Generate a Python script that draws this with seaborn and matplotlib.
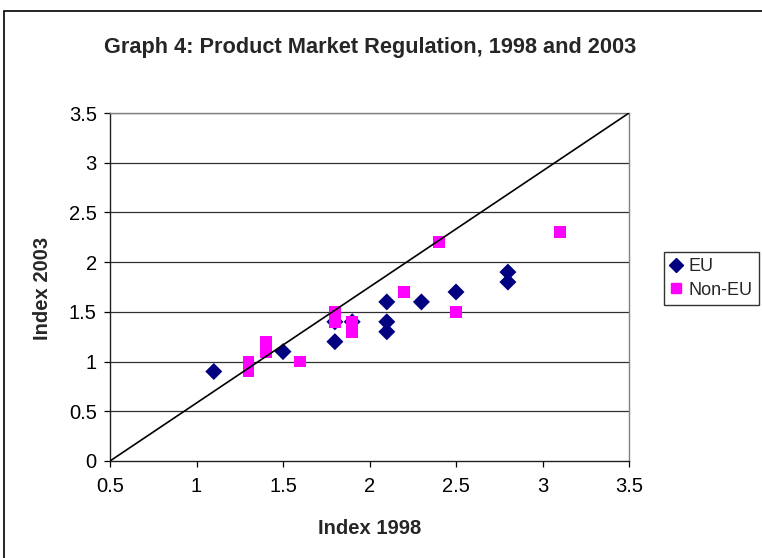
import matplotlib
matplotlib.use("Agg")
import matplotlib.pyplot as plt
import seaborn as sns
import pandas as pd
from matplotlib.patches import Rectangle
from matplotlib.lines import Line2D

# Data
eu_1998 = [1.1, 1.5, 1.8, 1.8, 1.9, 2.1, 2.1, 2.1, 2.3, 2.5, 2.8, 2.8]
eu_2003 = [0.9, 1.1, 1.2, 1.4, 1.4, 1.6, 1.4, 1.3, 1.6, 1.7, 1.9, 1.8]
noneu_1998 = [1.3, 1.3, 1.4, 1.4, 1.6, 1.8, 1.8, 1.9, 1.9, 2.2, 2.4, 2.5, 3.1]
noneu_2003 = [1.0, 0.9, 1.2, 1.1, 1.0, 1.5, 1.4, 1.4, 1.3, 1.7, 2.2, 1.5, 2.3]
diag_x = [0.5, 3.5]
diag_y = [0.0, 3.5]
x_ticks = [0.5, 1, 1.5, 2, 2.5, 3, 3.5]
y_ticks = [0, 0.5, 1, 1.5, 2, 2.5, 3, 3.5]
x_ticklabels = ['0.5', '1', '1.5', '2', '2.5', '3', '3.5']
y_ticklabels = ['0', '0.5', '1', '1.5', '2', '2.5', '3', '3.5']

sns.set_style("white")
plt.rcParams['font.family'] = ['Liberation Sans', 'DejaVu Sans']

df_eu = pd.DataFrame({"x": eu_1998, "y": eu_2003, "group": "EU"})
df_ne = pd.DataFrame({"x": noneu_1998, "y": noneu_2003, "group": "Non-EU"})

fig = plt.figure(figsize=(7.62, 5.58), dpi=100)
ax = fig.add_axes([110/762, 1-461/558, (629-110)/762, (461-113)/558])

# horizontal gridlines
for yv in y_ticks[1:]:
    ax.axhline(yv, color='#303030', lw=0.9, zorder=1)

sns.scatterplot(data=df_eu, x="x", y="y", marker='D', color='#000080', s=75,
                edgecolor='none', ax=ax, zorder=3, legend=False)
sns.scatterplot(data=df_ne, x="x", y="y", marker='s', color='#FF00FF', s=72,
                edgecolor='none', ax=ax, zorder=4, legend=False)
sns.lineplot(x=diag_x, y=diag_y, color='black', lw=1.2, ax=ax, zorder=5)

ax.set_xlim(0.5, 3.5)
ax.set_ylim(0, 3.5)
ax.set_xticks(x_ticks)
ax.set_xticklabels(x_ticklabels)
ax.set_yticks(y_ticks)
ax.set_yticklabels(y_ticklabels)
ax.tick_params(axis='both', direction='out', length=4.5, width=0.9, colors='black',
               labelsize=14.5, bottom=True, left=True)
ax.tick_params(axis='x', pad=7)
ax.tick_params(axis='y', pad=5)

for side in ['left', 'bottom']:
    ax.spines[side].set_color('#202020')
    ax.spines[side].set_linewidth(1.0)
ax.spines['right'].set_color('#808080')
ax.spines['right'].set_linewidth(1.0)
ax.spines['top'].set_color('#808080')
ax.spines['top'].set_linewidth(1.0)

ax.set_xlabel('Index 1998', fontsize=14.5, fontweight='bold', va='center')
ax.xaxis.set_label_coords((370-110)/519, (461-529)/348)
ax.set_ylabel('Index 2003', fontsize=14.5, fontweight='bold', va='center')
ax.yaxis.set_label_coords((42-110)/519, (461-288)/348)

fig.text(370/762, 1-47/558, 'Graph 4: Product Market Regulation, 1998 and 2003',
         ha='center', va='center', fontsize=15.7, fontweight='bold')

# outer chart border
fig.patches.append(Rectangle((4/762, -0.05), 1.2, 1-11/558+0.05,
                             transform=fig.transFigure, fill=False,
                             edgecolor='black', lw=1.2))

handles = [Line2D([], [], marker='D', color='#000080', ls='none', markersize=7),
           Line2D([], [], marker='s', color='#FF00FF', ls='none', markersize=7.5)]
leg = fig.legend(handles, ['EU', 'Non-EU'], loc='upper left',
                 bbox_to_anchor=(664/762, 1-252/558), frameon=True, fancybox=False,
                 edgecolor='black', fontsize=13, handlelength=0.6,
                 handletextpad=0.4, borderpad=0.35, labelspacing=0.35,
                 borderaxespad=0)
leg.get_frame().set_linewidth(1.0)

fig.savefig('out.png', dpi=100)
